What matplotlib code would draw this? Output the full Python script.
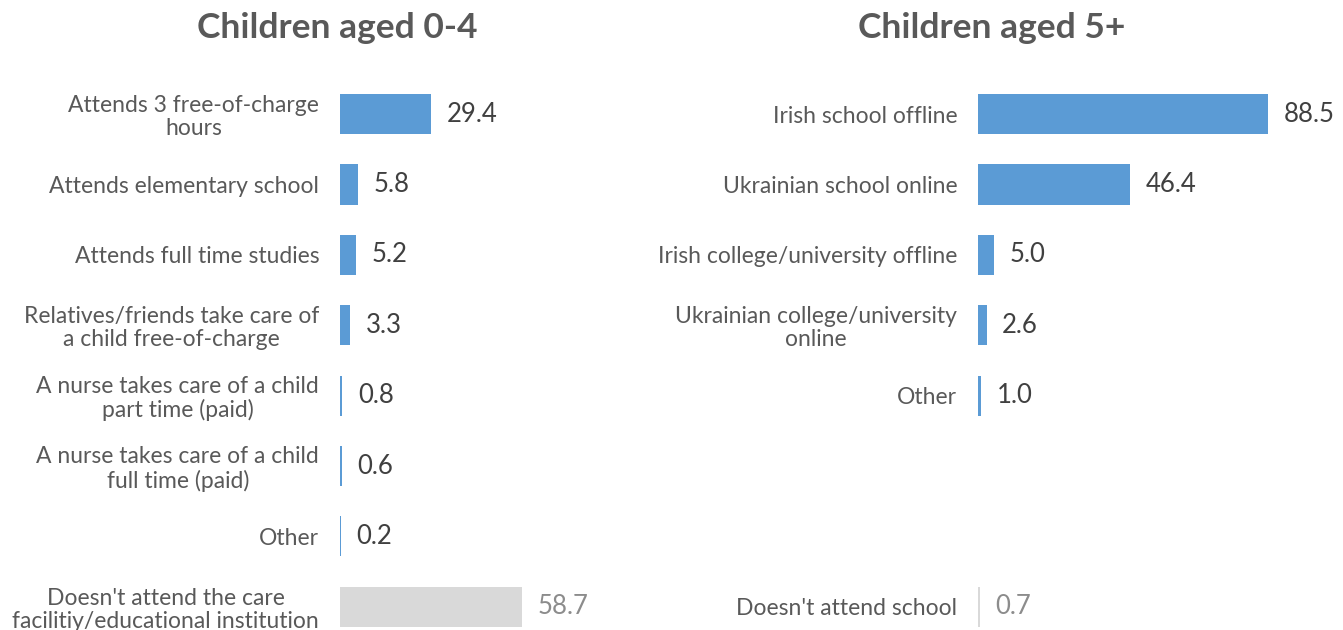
import matplotlib.pyplot as plt

# Children aged 0-4: care / education arrangements (%)
young_labels = ['Attends 3 free-of-charge\nhours',
                'Attends elementary school',
                'Attends full time studies',
                'Relatives/friends take care of\na child free-of-charge',
                'A nurse takes care of a child\npart time (paid)',
                'A nurse takes care of a child\nfull time (paid)',
                'Other',
                "Doesn't attend the care\nfacilitiy/educational institution"]
young_values = [29.4, 5.8, 5.2, 3.3, 0.8, 0.6, 0.2, 58.7]

# Children aged 5+: schooling (%)
older_labels = ['Irish school offline',
                'Ukrainian school online',
                'Irish college/university offline',
                'Ukrainian college/university\nonline',
                'Other',
                "Doesn't attend school"]
older_values = [88.5, 46.4, 5.0, 2.6, 1.0, 0.7]
older_rows = [0, 1, 2, 3, 4, 7]

BLUE = '#5B9BD5'
GREY = '#D9D9D9'
plt.rcParams['font.family'] = ['Lato', 'DejaVu Sans']


def draw_panel(ax, rows, labels, values, xmax):
    '''Horizontal bars, last row greyed out, values printed at bar ends.'''
    colors = [BLUE] * (len(values) - 1) + [GREY]
    ax.barh(rows, values, height=0.57, color=colors)
    ax.set_xlim(0, xmax)
    ax.set_ylim(7.5, -0.5)
    ax.set_yticks(rows)
    ax.set_yticklabels(labels, fontsize=16.5, color='#595959')
    for lab in ax.get_yticklabels():
        lab.set_multialignment('center')
        lab.set_linespacing(1.12)
    ax.tick_params(axis='y', length=0, pad=15)
    ax.set_xticks([])
    for s in ax.spines.values():
        s.set_visible(False)
    for i, (r, v) in enumerate(zip(rows, values)):
        col = '#8C8C8C' if i == len(values) - 1 else '#404040'
        ax.annotate(f'{v:.1f}', (v, r), xytext=(11, 0), textcoords='offset points',
                    va='center', ha='left', fontsize=18.5, color=col)


fig = plt.figure(figsize=(13.43, 6.30), dpi=100)

ax1 = fig.add_axes([340 / 1343, -0.019, 280 / 1343, 0.8937])
draw_panel(ax1, list(range(8)), young_labels, young_values, 90.3)

ax2 = fig.add_axes([978 / 1343, -0.019, 322 / 1343, 0.8937])
draw_panel(ax2, older_rows, older_labels, older_values, 98.2)

fig.text(337 / 1343, 1 - 28 / 630, 'Children aged 0-4', ha='center', va='center',
         fontsize=25.5, fontweight='bold', color='#595959')
fig.text(992 / 1343, 1 - 28 / 630, 'Children aged 5+', ha='center', va='center',
         fontsize=25.5, fontweight='bold', color='#595959')

fig.savefig('out.png', dpi=100, facecolor='white')
